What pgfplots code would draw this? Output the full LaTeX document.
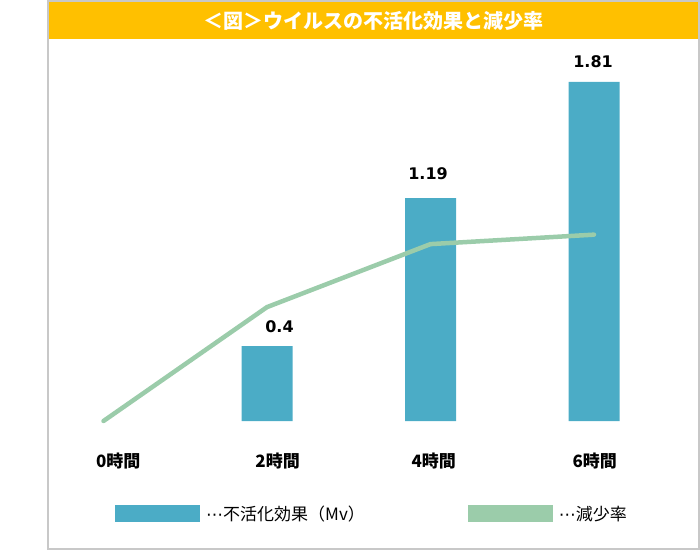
\documentclass[border=0pt]{standalone}
\usepackage{fontspec}
\usepackage{pgfplots}
\pgfplotsset{compat=1.18}
\setmainfont{Noto Sans CJK JP}
\newfontfamily\numfont{DejaVu Sans}
\definecolor{barblue}{RGB}{75,172,198}
\definecolor{lgreen}{RGB}{155,204,170}
\definecolor{titleor}{RGB}{255,192,0}
\definecolor{framegray}{RGB}{200,200,200}
\begin{document}
\begin{tikzpicture}[x=1pt,y=1pt]
\path[use as bounding box] (0,0) rectangle (700,550);
\fill[titleor] (49,511) rectangle (698,548);
\draw[framegray, line width=2pt] (48,1) rectangle (699,549);
\node[text=white, font=\fontsize{20pt}{24pt}\selectfont\bfseries] at (373.5,529.5) {＜図＞ウイルスの不活化効果と減少率};
\begin{axis}[
  at={(54.45pt,129pt)}, anchor=south west,
  scale only axis, width=621.3pt, height=374.6pt,
  xmin=-0.6, xmax=7, ymin=0, ymax=2,
  axis line style={draw=none}, tick style={draw=none},
  major tick length=0pt,
  ytick=\empty,
  xtick={0.18,2.13,4.04,6.01},
  xticklabels={0時間,2時間,4時間,6時間},
  xticklabel style={font=\fontsize{17pt}{20pt}\selectfont\bfseries, anchor=base, yshift=-46pt, inner sep=0pt},
  clip=false,
]
\addplot[ybar, bar width=51pt, fill=barblue, draw=none] coordinates {(2,0.4) (4,1.19) (6,1.81)};
\node[anchor=base, inner sep=0pt, font=\numfont\fontsize{16pt}{19pt}\selectfont\bfseries] at (axis cs:2.153,0.47) {0.4};
\node[anchor=base, inner sep=0pt, font=\numfont\fontsize{16pt}{19pt}\selectfont\bfseries] at (axis cs:3.97,1.287) {1.19};
\node[anchor=base, inner sep=0pt, font=\numfont\fontsize{16pt}{19pt}\selectfont\bfseries] at (axis cs:5.988,1.89) {1.81};
\end{axis}
\begin{axis}[
  at={(54.45pt,129pt)}, anchor=south west,
  scale only axis, width=621.3pt, height=374.6pt,
  xmin=-0.6, xmax=7, ymin=0, ymax=198,
  hide axis, clip=false,
  legend columns=2,
  legend style={at={(rel axis cs:0.0975,-0.2469)}, anchor=west, draw=none, fill=none,
    inner sep=0pt, nodes={inner sep=0pt},
    font=\fontsize{17pt}{20pt}\selectfont,
    /tikz/every odd column/.append style={column sep=6pt},
    /tikz/every even column/.append style={column sep=103pt}},
]
\addlegendimage{legend image code/.code={\path[fill=barblue, draw=none] (0pt,-7.5pt) rectangle (85pt,9.5pt);}}
\addlegendentry{{\numfont ⋯}不活化効果（Mv）}
\addplot[lgreen, line width=4.5pt, line cap=round, line join=round,
  legend image code/.code={\path[fill=lgreen, draw=none, line width=0pt] (0pt,-7.5pt) rectangle (85pt,9.5pt);}]
  coordinates {(0,0) (2,60.2) (4,93.5) (6,98.5)};
\addlegendentry{{\numfont ⋯}減少率}
\end{axis}
\end{tikzpicture}
\end{document}
